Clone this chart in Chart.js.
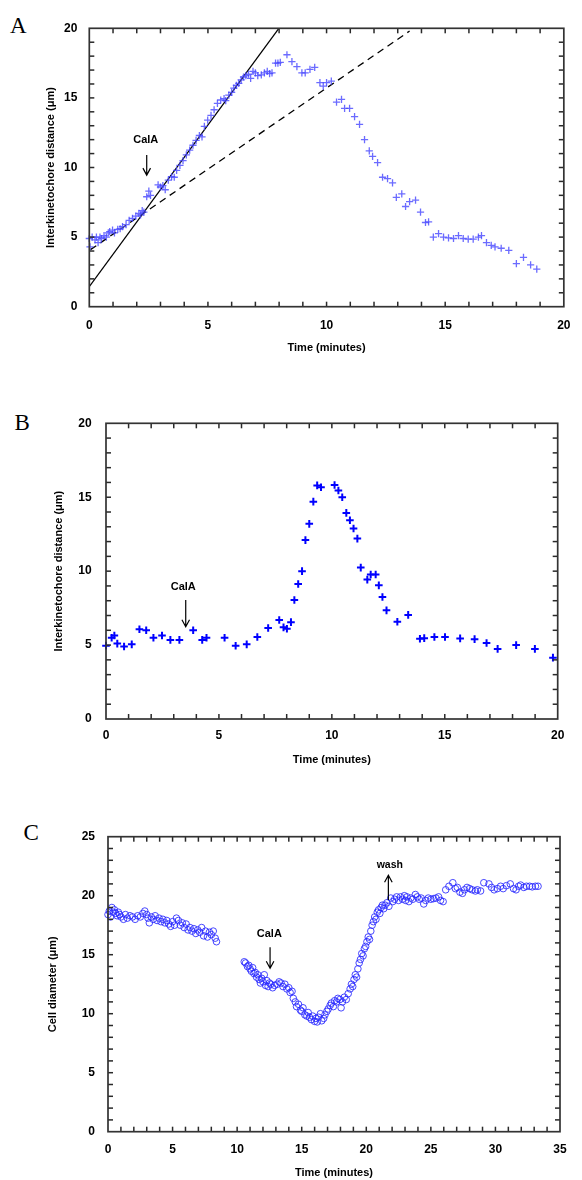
<!DOCTYPE html>
<html><head><meta charset="utf-8">
<script src="https://cdn.jsdelivr.net/npm/chart.js@4.4.0/dist/chart.umd.min.js"></script>
<style>
html,body{margin:0;padding:0;background:#fff;}
body{width:582px;height:1180px;position:relative;overflow:hidden;}
canvas{position:absolute;left:0;}
.lbl{position:absolute;font-family:'Liberation Serif','Times New Roman',serif;font-size:23px;line-height:1;color:#000;}
</style></head><body>
<div class="lbl" style="left:10px;top:14px">A</div>
<div class="lbl" style="left:14.5px;top:411px">B</div>
<div class="lbl" style="left:23.5px;top:821px">C</div>
<canvas id="cA" width="582" height="362" style="top:0px;width:582px;height:362px"></canvas>
<canvas id="cB" width="582" height="400" style="top:380px;width:582px;height:400px"></canvas>
<canvas id="cC" width="582" height="390" style="top:790px;width:582px;height:390px"></canvas>
<script>
// ---------- Panel A : interkinetochore distance ----------
const aTime = [0.00,0.03,0.12,0.24,0.30,0.37,0.45,0.51,0.62,0.72,
  0.80,0.86,0.98,1.06,1.20,1.30,1.40,1.55,1.68,1.82,
  1.96,2.09,2.16,2.23,2.30,2.42,2.51,2.58,2.90,3.00,
  3.10,3.20,3.33,3.47,3.58,3.68,3.82,3.95,4.09,4.23,
  4.37,4.50,4.64,4.75,4.85,4.99,5.13,5.26,5.40,5.54,
  5.68,5.75,5.88,6.00,6.09,6.20,6.30,6.40,6.50,6.60,
  6.71,6.80,6.90,7.00,7.10,7.25,7.38,7.50,7.60,7.70,
  7.85,7.95,8.05,8.33,8.54,8.75,8.96,9.10,9.30,9.50,
  9.72,9.86,10.00,10.20,10.42,10.63,10.76,10.97,11.18,11.39,
  11.60,11.80,11.94,12.15,12.36,12.57,12.78,12.94,13.17,13.33,
  13.50,13.75,13.96,14.17,14.30,14.50,14.72,14.93,15.14,15.35,
  15.56,15.76,15.97,16.18,16.40,16.53,16.74,16.94,17.10,17.36,
  17.68,18.00,18.30,18.60,18.86];
const aDist = [4.9,4.3,5.0,4.8,5.0,4.6,5.0,4.9,5.1,5.0,
  5.3,5.4,5.5,5.3,5.55,5.6,5.75,5.9,6.2,6.35,
  6.5,6.7,6.6,6.9,6.8,7.9,8.3,8.0,8.75,8.6,
  8.7,8.4,9.1,9.35,9.3,9.8,10.15,10.5,10.9,11.25,
  11.6,11.95,12.3,12.2,12.95,13.4,13.75,14.15,14.6,14.85,
  14.95,14.8,15.2,15.4,15.7,15.9,16.05,16.3,16.5,16.6,
  16.7,16.4,16.9,16.8,16.6,16.65,16.8,16.9,16.75,16.8,
  17.5,17.5,17.55,18.1,17.6,17.25,16.8,16.8,17.05,17.2,
  16.1,15.85,16.1,16.2,14.7,14.9,14.25,14.25,13.65,13.1,
  12.0,11.2,10.8,10.35,9.3,9.2,8.9,7.85,8.1,7.2,
  7.55,7.65,6.8,6.05,6.1,5.0,5.25,5.0,4.95,4.9,
  5.1,4.9,4.85,4.85,5.0,5.1,4.6,4.4,4.3,4.2,
  4.05,3.1,3.55,3.0,2.7];
const aSolidFitTime = [0, 7.99];
const aSolidFitDist = [1.44, 20];
const aDashedFitTime = [0.05, 13.5];
const aDashedFitDist = [4.1, 19.8];
const aXTickLabels = [0, 5, 10, 15, 20];
const aYTickLabels = [0, 5, 10, 15, 20];

// ---------- Panel B ----------
const bTime = [0.00,0.25,0.37,0.50,0.80,1.14,1.48,1.78,2.10,2.48,
  2.85,3.25,3.86,4.26,4.45,5.25,5.74,6.23,6.70,7.18,
  7.67,7.86,8.01,8.19,8.34,8.51,8.68,8.83,9.00,9.18,
  9.35,9.52,10.12,10.29,10.46,10.64,10.80,10.96,11.13,11.28,
  11.57,11.72,11.94,12.08,12.24,12.42,12.90,13.38,13.90,14.09,
  14.54,15.01,15.68,16.32,16.85,17.34,18.16,18.99,19.79];
const bDist = [4.96,5.5,5.65,5.1,4.9,5.05,6.07,6.0,5.5,5.65,
  5.35,5.35,6.0,5.35,5.5,5.5,4.95,5.05,5.55,6.15,
  6.7,6.2,6.1,6.55,8.05,9.13,10.0,12.1,13.2,14.7,
  15.8,15.67,15.83,15.45,15.0,13.94,13.44,12.88,12.2,10.24,
  9.43,9.77,9.77,9.04,8.25,7.35,6.58,7.04,5.43,5.47,
  5.55,5.55,5.45,5.4,5.14,4.74,5.0,4.74,4.15];
const bXTickLabels = [0, 5, 10, 15, 20];
const bYTickLabels = [0, 5, 10, 15, 20];

// ---------- Panel C : cell diameter ----------
const cTime = [0.0,0.1,0.2,0.3,0.4,0.5,0.6,0.7,0.8,0.9,
  1.0,1.2,1.35,1.5,1.7,1.9,2.1,2.3,2.5,2.7,
  2.85,3.0,3.1,3.2,3.35,3.5,3.65,3.8,3.95,4.1,
  4.25,4.4,4.55,4.7,4.85,5.0,5.15,5.3,5.45,5.6,
  5.75,5.9,6.05,6.2,6.35,6.5,6.65,6.8,6.95,7.1,
  7.25,7.4,7.55,7.7,7.85,8.0,8.15,8.3,8.4,
  10.55,10.65,10.8,10.9,11.0,11.1,11.2,11.3,11.4,11.5,
  11.6,11.7,11.8,11.9,12.0,12.1,12.2,12.3,12.4,12.5,
  12.6,12.75,12.9,13.1,13.25,13.4,13.55,13.7,13.85,14.0,
  14.1,14.25,14.35,14.5,14.6,14.75,14.9,15.0,15.1,15.25,
  15.4,15.5,15.6,15.75,15.85,16.0,16.1,16.2,16.3,16.45,
  16.55,16.7,16.8,16.95,17.05,17.2,17.3,17.45,17.55,17.7,
  17.8,17.95,18.05,18.15,18.3,18.45,18.6,18.75,18.85,18.95,
  19.05,19.15,19.25,19.35,19.45,19.55,19.65,19.75,19.85,19.95,
  20.05,20.15,20.25,20.35,20.45,20.55,20.65,20.75,20.85,20.95,
  21.05,21.15,21.25,21.35,21.45,21.6,21.75,21.9,22.05,22.2,
  22.35,22.5,22.65,22.8,22.95,23.05,23.15,23.3,23.45,23.6,
  23.8,23.95,24.1,24.25,24.45,24.6,24.8,25.0,25.2,25.4,
  25.6,25.75,25.95,26.15,26.4,26.7,26.9,27.05,27.25,27.45,
  27.6,27.8,28.0,28.2,28.45,28.6,28.85,29.1,29.5,29.7,
  29.9,30.15,30.4,30.6,30.85,31.15,31.4,31.6,31.8,31.95,
  32.2,32.4,32.65,32.85,33.1,33.3];
const cDiam = [18.4,18.7,18.2,19.0,18.6,18.8,18.5,18.3,18.6,18.4,
  18.2,18.0,18.4,18.1,18.3,18.2,18.0,18.3,18.2,18.5,
  18.7,18.4,18.1,17.7,18.2,18.0,18.3,17.9,18.1,17.8,
  18.0,17.7,17.9,17.6,17.4,17.8,17.5,18.1,17.9,17.5,
  17.7,17.3,17.6,17.1,17.3,17.0,17.2,16.8,17.1,16.9,
  17.3,16.6,17.0,16.5,16.9,16.7,17.0,16.4,16.1,
  14.4,14.3,14.0,14.1,13.8,13.6,13.9,13.4,13.5,13.1,
  13.3,12.9,12.6,13.0,12.7,13.3,12.4,12.8,12.3,12.6,
  12.5,12.2,12.4,12.5,12.7,12.6,12.3,12.5,12.1,12.2,
  11.8,11.9,11.3,11.0,10.6,10.8,10.3,10.2,10.5,9.9,
  9.8,10.1,9.7,9.5,9.8,9.35,9.6,9.3,9.7,10.0,
  9.4,9.6,9.9,10.2,10.4,10.7,10.9,10.6,11.1,11.0,
  11.3,11.2,10.5,11.0,11.4,11.2,11.7,12.1,12.5,12.3,
  12.9,13.3,13.1,13.8,14.3,14.6,15.1,14.9,15.5,15.7,
  16.1,16.5,16.3,17.0,17.5,17.8,18.2,18.0,18.6,18.8,
  18.5,19.0,19.2,18.9,19.2,19.4,19.1,19.8,19.5,19.7,
  19.9,19.6,19.9,19.7,20.0,19.6,19.9,19.5,19.8,19.7,
  20.1,19.9,19.7,19.8,19.3,19.6,19.8,19.7,19.75,19.8,
  19.9,19.6,19.5,20.5,20.8,21.1,20.6,20.7,20.3,20.2,
  20.5,20.7,20.6,20.5,20.4,20.5,20.4,21.1,21.0,20.7,
  20.5,20.6,20.8,20.6,20.85,21.0,20.6,20.5,20.8,20.9,
  20.7,20.8,20.8,20.75,20.8,20.8];
const cXTickLabels = [0, 5, 10, 15, 20, 25, 30, 35];
const cYTickLabels = [0, 5, 10, 15, 20, 25];

// ---------- rendering ----------
const F = "'Liberation Sans', Arial, Helvetica, sans-serif";
const pts = (xs, ys) => xs.map((x, i) => ({x: x, y: ys[i]}));
const isLabel = (list, v) => list.some(l => Math.abs(l - v) < 1e-6);

// frame round the plot area plus inward minor ticks on all four sides
const frameTicks = {
  id: 'frameTicks',
  afterDraw(chart) {
    const ctx = chart.ctx;
    const a = chart.chartArea;
    const x = chart.scales.x, y = chart.scales.y;
    const TL = 5, TW = 1.5;
    ctx.save();
    ctx.setLineDash([]);
    ctx.fillStyle = '#2a2a2a';
    for (let v = Math.ceil(x.min) + 1; v < x.max; v += 1) {
      const p = x.getPixelForValue(v);
      ctx.fillRect(p - TW / 2, a.bottom - TL, TW, TL);
      ctx.fillRect(p - TW / 2, a.top, TW, TL);
    }
    for (let v = Math.ceil(y.min) + 1; v < y.max; v += 1) {
      const p = y.getPixelForValue(v);
      ctx.fillRect(a.left, p - TW / 2, TL, TW);
      ctx.fillRect(a.right - TL, p - TW / 2, TL, TW);
    }
    ctx.strokeStyle = '#333333';
    ctx.lineWidth = 1.7;
    ctx.strokeRect(a.left, a.top, a.right - a.left, a.bottom - a.top);
    ctx.restore();
  }
};

const notes = {
  id: 'notes',
  afterDatasetsDraw(chart, args, opts) {
    const ctx = chart.ctx;
    const x = chart.scales.x, y = chart.scales.y;
    ctx.save();
    ctx.setLineDash([]);
    ctx.fillStyle = '#000';
    ctx.strokeStyle = '#000';
    ctx.lineWidth = 1.2;
    (opts.items || []).forEach(n => {
      ctx.font = 'bold ' + n.size + 'px ' + F;
      ctx.textAlign = 'center';
      ctx.textBaseline = 'middle';
      ctx.fillText(n.text, x.getPixelForValue(n.tx), y.getPixelForValue(n.ty));
      const ax = x.getPixelForValue(n.ax);
      const y1 = y.getPixelForValue(n.from);
      const y2 = y.getPixelForValue(n.to);
      const d = y2 > y1 ? 1 : -1;
      ctx.beginPath();
      ctx.moveTo(ax, y1); ctx.lineTo(ax, y2);
      ctx.moveTo(ax - 3.8, y2 - d * 7); ctx.lineTo(ax, y2); ctx.lineTo(ax + 3.8, y2 - d * 7);
      ctx.stroke();
    });
    ctx.restore();
  }
};

function makeScales(o) {
  const tickFont = {family: F, size: 12, weight: 'bold'};
  const titleFont = {family: F, size: 11, weight: 'bold'};
  return {
    x: {
      type: 'linear', position: 'bottom', min: o.xmin, max: o.xmax,
      afterFit: s => { s.height = o.xh; },
      grid: {display: false, drawTicks: false}, border: {display: false},
      ticks: {stepSize: 1, autoSkip: false, maxRotation: 0, minRotation: 0, maxTicksLimit: 100,
        padding: o.xpad, color: '#000', font: tickFont,
        callback: v => isLabel(o.xLabels, v) ? String(Math.round(v)) : ''},
      title: {display: true, text: 'Time (minutes)', color: '#000', font: titleFont,
        padding: {top: 0, bottom: o.xtpad}}
    },
    y: {
      type: 'linear', position: 'left', min: o.ymin, max: o.ymax,
      afterFit: s => { s.width = o.yw; },
      grid: {display: false, drawTicks: false}, border: {display: false},
      ticks: {stepSize: 1, autoSkip: false, maxTicksLimit: 100,
        padding: o.ypad, color: '#000', font: tickFont,
        callback: v => isLabel(o.yLabels, v) ? String(Math.round(v)) : ''},
      title: {display: true, text: o.ytitle, color: '#000', font: titleFont,
        padding: {top: o.ytpad, bottom: 0}}
    }
  };
}

function baseOptions(pad, scales, items) {
  return {
    responsive: false, animation: false, events: [],
    layout: {padding: pad},
    plugins: {legend: {display: false}, tooltip: {enabled: false}, notes: {items: items}},
    scales: scales
  };
}

// Panel A
new Chart(document.getElementById('cA'), {
  type: 'scatter',
  data: {datasets: [
    {data: pts(aTime, aDist), pointStyle: 'cross', pointRadius: 3.6,
     pointBorderColor: 'rgba(70,70,255,0.8)', pointBorderWidth: 1.3,
     borderColor: 'rgba(70,70,255,0.8)', backgroundColor: 'transparent', clip: false},
    {data: pts(aSolidFitTime, aSolidFitDist), showLine: true, pointRadius: 0,
     borderColor: '#000', borderWidth: 1.2},
    {data: pts(aDashedFitTime, aDashedFitDist), showLine: true, pointRadius: 0,
     borderColor: '#000', borderWidth: 1.3, borderDash: [7, 5]}
  ]},
  options: baseOptions({left: 0, top: 28.3, right: 8, bottom: 0},
    makeScales({xmin: 0, xmax: 20, ymin: 0, ymax: 20, xh: 55.3, yw: 89.3,
      xpad: 11.5, ypad: 12, xtpad: 7.4, ytpad: 44.4,
      xLabels: aXTickLabels, yLabels: aYTickLabels,
      ytitle: 'Interkinetochore distance (\u03bcm)'}),
    [{text: 'CalA', size: 11, tx: 2.38, ty: 11.95, ax: 2.42, from: 10.89, to: 9.45}]),
  plugins: [frameTicks, notes]
});

// Panel B
new Chart(document.getElementById('cB'), {
  type: 'scatter',
  data: {datasets: [
    {data: pts(bTime, bDist), pointStyle: 'cross', pointRadius: 3.8,
     pointBorderColor: '#0000ff', pointBorderWidth: 2,
     borderColor: '#0000ff', backgroundColor: 'transparent', clip: false}
  ]},
  options: baseOptions({left: 0, top: 43.3, right: 24.3, bottom: 0},
    makeScales({xmin: 0, xmax: 20, ymin: 0, ymax: 20, xh: 61, yw: 106,
      xpad: 9.5, ypad: 14.3, xtpad: 13.4, ytpad: 52.4,
      xLabels: bXTickLabels, yLabels: bYTickLabels,
      ytitle: 'Interkinetochore distance (\u03bcm)'}),
    [{text: 'CalA', size: 11, tx: 3.42, ty: 8.95, ax: 3.53, from: 8.05, to: 6.24}]),
  plugins: [frameTicks, notes]
});

// Panel C
new Chart(document.getElementById('cC'), {
  type: 'scatter',
  data: {datasets: [
    {data: pts(cTime, cDiam), pointStyle: 'circle', pointRadius: 3.3,
     pointBorderColor: 'rgba(40,40,255,0.85)', pointBorderWidth: 1,
     pointBackgroundColor: 'rgba(0,0,0,0)',
     borderColor: 'rgba(40,40,255,0.85)', backgroundColor: 'rgba(0,0,0,0)', clip: false}
  ]},
  options: baseOptions({left: 0, top: 46.7, right: 22, bottom: 0},
    makeScales({xmin: 0, xmax: 35, ymin: 0, ymax: 25, xh: 48.3, yw: 108,
      xpad: 11.2, ypad: 13, xtpad: 0.4, ytpad: 46.4,
      xLabels: cXTickLabels, yLabels: cYTickLabels,
      ytitle: 'Cell diameter (\u03bcm)'}),
    [{text: 'CalA', size: 11, tx: 12.49, ty: 16.74, ax: 12.55, from: 15.63, to: 13.85},
     {text: 'wash', size: 10.5, tx: 21.82, ty: 22.63, ax: 21.71, from: 19.64, to: 21.73}]),
  plugins: [frameTicks, notes]
});
</script>
</body></html>
